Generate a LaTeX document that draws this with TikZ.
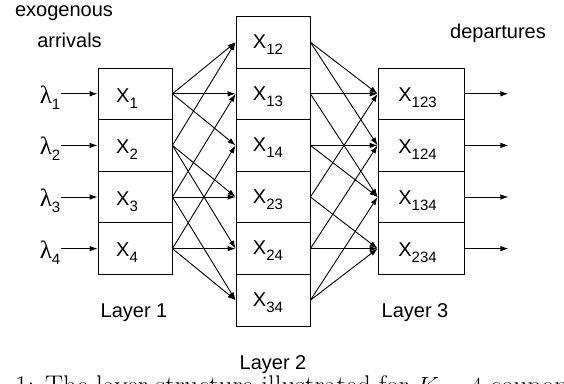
\documentclass[tikz,border=0pt]{standalone}
\usepackage{fontspec}
\newfontfamily\diafont{Liberation Sans}
\newfontfamily\lamfont{Liberation Serif}
\usetikzlibrary{arrows.meta,positioning}
\def\lsub#1{\raisebox{-6pt}{\diafont\fontsize{15}{15}\selectfont #1}}

\tikzset{
	arr/.style={line width=0.9pt, -{Latex[length=8pt,width=5.5pt]}},
	cell/.style={draw, line width=0.8pt, minimum width=74pt, minimum height=51.6pt, inner sep=0pt},
	cellwide/.style={cell, minimum width=86pt},
	lbl/.style={font=\diafont\fontsize{20}{20}\selectfont, inner sep=0pt},
	txt/.style={font=\diafont\fontsize{20}{24}\selectfont, inner sep=0pt},
}

\begin{document}
\begin{tikzpicture}[x=1pt, y=-1pt]
			%%%%% START %%%%%
			\useasboundingbox (0, 0) rectangle (564, 383);
			\clip (0, 0) rectangle (564, 383);
			
			% layer 1
			\foreach \n [count=\i] in {1,2,3,4}
				\node[cell, label={[lbl, xshift=-8pt, yshift=-4.5pt]center:X\lsub{\n}}] (x\n) at (135, {93.8+51.6*(\i-1)}) {};
			
			% layer 2
			\foreach \n [count=\i] in {12,13,14,23,24,34}
				\node[cell, label={[lbl, xshift=-5pt, yshift=-2.5pt]center:X\lsub{\n}}] (x\n) at (273, {42.2+51.6*(\i-1)}) {};
			
			% layer 3
			\foreach \n [count=\i] in {123,124,134,234}
				\node[cellwide, label={[lbl, xshift=-3.5pt, yshift=-4pt]center:X\lsub{\n}}] (x\n) at (421, {93.8+51.6*(\i-1)}) {};
			
			% exogenous arrivals
			\foreach \i in {1,2,3,4} {
				\node[inner sep=1pt, font=\lamfont\fontsize{25}{25}\selectfont] (lam\i) at (50, {97.5+51.6*(\i-1)}) {λ\lsub{\i}};
				\draw[arr] (lam\i.east |- x\i.west) -- (x\i.west);
			}
			
			% layer 1 -> layer 2
			\foreach \a/\b in {1/12,1/13,1/14,2/12,2/23,2/24,3/13,3/23,3/34,4/14,4/24,4/34}
				\draw[arr] (x\a.east) -- (x\b.west);
			
			% layer 2 -> layer 3
			\foreach \a/\b in {12/123,12/124,13/123,13/134,14/124,14/134,23/123,23/234,24/124,24/234,34/134,34/234}
				\draw[arr] (x\a.east) -- (x\b.west);
			
			% departures
			\foreach \n in {123,124,134,234} {
				\coordinate[right=44pt of x\n.east] (out\n);
				\draw[arr] (x\n.east) -- (out\n);
			}
			
			\node[txt] (exo) at (64, 13) {exogenous};
			\node[txt] (arr) at (69.5, 40) {arrivals};
			\node[txt] (dep) at (498, 33.5) {departures};
			\node[txt] (lay1) at (134, 312.5) {Layer 1};
			\node[txt] (lay2) at (273, 365) {Layer 2};
			\node[txt] (lay3) at (415, 312.5) {Layer 3};
			
			\node[anchor=base west, inner sep=0pt, font=\fontsize{27}{32}\selectfont] (cap) at (15, 394.5) {1: The layer structure illustrated for $K=4$ coupons};
			%%%%% END %%%%%
\end{tikzpicture}
\end{document}
